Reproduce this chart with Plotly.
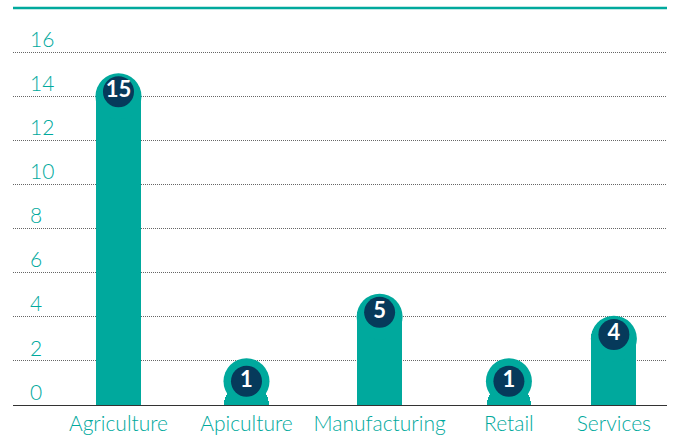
import plotly.graph_objects as go

# Data
categories = ["Agriculture", "Apiculture", "Manufacturing", "Retail", "Services"]
counts = [15, 1, 5, 1, 4]
y_ticks = [0, 2, 4, 6, 8, 10, 12, 14, 16]

# Layout constants
TEAL = "#00a99d"
NAVY = "#063a5b"
x_slots = [0, 1, 2.04, 3.05, 3.87]   # horizontal slot of each category
bar_width = 0.35
cap = 1.08                            # half bar width expressed in y units

# Disc/badge centres derived from each count
disc_y = [max(v - 1.0, cap) for v in counts]
badge_y = [max(v - 0.8, cap) for v in counts]

fig = go.Figure()

fig.add_trace(go.Bar(
    x=x_slots, y=counts, width=bar_width,
    marker=dict(color=TEAL, cornerradius="50%", line=dict(width=0)),
    hoverinfo="skip", showlegend=False,
))

# Teal disc so short bars read as full circles
fig.add_trace(go.Scatter(
    x=x_slots, y=disc_y, mode="markers",
    marker=dict(size=46, color=TEAL, line=dict(width=0)),
    cliponaxis=False, hoverinfo="skip", showlegend=False,
))

# Navy value badges
fig.add_trace(go.Scatter(
    x=x_slots, y=badge_y, mode="markers+text",
    text=[str(v) for v in counts], textposition="middle center",
    textfont=dict(family="Lato", size=22, color="white", weight=700),
    marker=dict(size=31, color=NAVY, line=dict(width=0)),
    cliponaxis=False, hoverinfo="skip", showlegend=False,
))

fig.update_layout(
    width=675, height=440,
    margin=dict(l=13, r=8, t=8, b=35),
    plot_bgcolor="white", paper_bgcolor="white",
    font=dict(family="Lato", color=TEAL, size=21, weight=300),
    xaxis=dict(
        range=[-0.824, 4.285], automargin=False,
        tickmode="array", tickvals=x_slots, ticktext=categories,
        showgrid=False, zeroline=False,
        showline=True, linecolor="#333333", linewidth=1,
        ticks="",
        tickfont=dict(family="Lato", size=21, color=TEAL, weight=300),
        fixedrange=True,
    ),
    yaxis=dict(
        range=[0, 18], automargin=False,
        tickmode="array", tickvals=y_ticks,
        showgrid=True, gridcolor="#666666", gridwidth=1, griddash="1px,1px",
        zeroline=False, showline=False, ticks="",
        ticklabelposition="inside top", ticklabelstandoff=14, ticklabelshift=2,
        tickfont=dict(family="Lato", size=21, color=TEAL, weight=300),
        fixedrange=True,
    ),
    shapes=[dict(
        type="line", xref="paper", yref="paper",
        x0=0, x1=1, y0=1, y1=1,
        line=dict(color=TEAL, width=2.5),
    )],
    bargap=0,
)

fig.write_html("out.html")
